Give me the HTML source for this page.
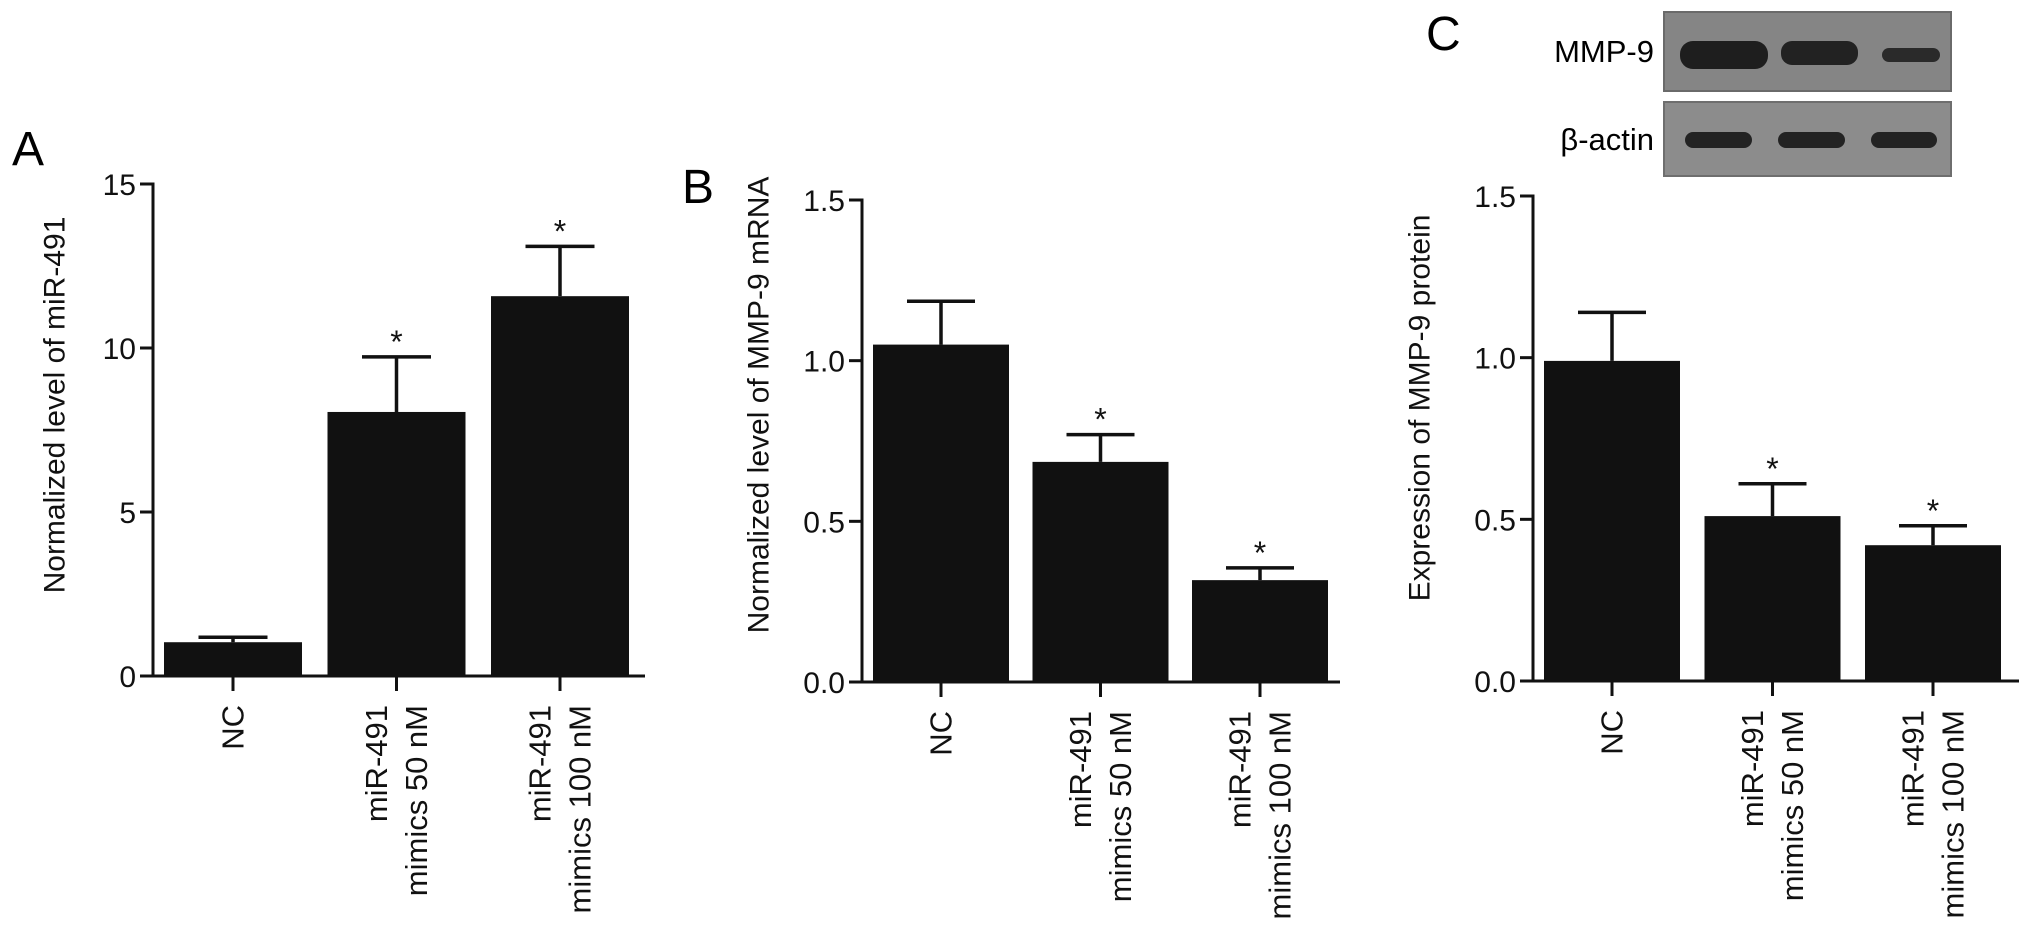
<!DOCTYPE html>
<html><head><meta charset="utf-8"><style>
html,body{margin:0;padding:0;background:#fff;}
svg{display:block;font-family:"Liberation Sans",Arial,sans-serif;}
</style></head><body>
<svg id="fig" width="2032" height="942" viewBox="0 0 2032 942" xmlns="http://www.w3.org/2000/svg">
<text x="12" y="165" font-size="48">A</text>
<text x="682" y="203" font-size="48">B</text>
<text x="1426" y="50" font-size="48">C</text>
<g>
  <text x="1654" y="62" font-size="31" text-anchor="end">MMP-9</text>
  <text x="1654" y="150" font-size="31" text-anchor="end">β-actin</text>
  <rect x="1664" y="12" width="287" height="79" fill="#858585" stroke="#6a6a6a" stroke-width="2"/>
  <rect x="1664" y="102" width="287" height="74" fill="#8c8c8c" stroke="#6e6e6e" stroke-width="2"/>
  <rect x="1680" y="41" width="88" height="28" rx="13" fill="#1e1e1e"/>
  <rect x="1781" y="41" width="77" height="24" rx="11" fill="#222"/>
  <rect x="1882" y="48" width="58" height="14" rx="7" fill="#2a2a2a"/>
  <rect x="1685" y="132" width="67" height="16" rx="8" fill="#232323"/>
  <rect x="1778" y="132" width="67" height="16" rx="8" fill="#232323"/>
  <rect x="1871" y="132" width="66" height="16" rx="8" fill="#232323"/>
</g>
</svg>
<script>
const categories = ["NC", "miR-491 mimics 50 nM", "miR-491 mimics 100 nM"];
const valuesA = [1.03, 8.05, 11.58];
const errorsA = [1.18, 9.73, 13.1];
const valuesB = [1.05, 0.685, 0.317];
const errorsB = [1.185, 0.77, 0.355];
const valuesC = [0.99, 0.51, 0.42];
const errorsC = [1.14, 0.61, 0.48];
const significant = [false, true, true];
const ticksA = [0, 5, 10, 15];
const tickLabelsA = ["0", "5", "10", "15"];
const ticksB = [0, 0.5, 1.0, 1.5];
const tickLabelsB = ["0.0", "0.5", "1.0", "1.5"];
const ticksC = [0, 0.5, 1.0, 1.5];
const tickLabelsC = ["0.0", "0.5", "1.0", "1.5"];

const NS = "http://www.w3.org/2000/svg";
const svg = document.getElementById("fig");
function mk(tag, attrs, parent) {
  const e = document.createElementNS(NS, tag);
  for (const k in attrs) e.setAttribute(k, attrs[k]);
  (parent || svg).appendChild(e);
  return e;
}

function panel(id, cfg, vals, errs, ticks, tickLabels, ylabel) {
  const g = mk("g", {});
  
  
  const yScale = v => cfg.y0 - (v - cfg.ymin) / (cfg.ymax - cfg.ymin) * (cfg.y0 - cfg.yTop);
  const xScale = i => cfg.x0 + i * cfg.step;
  // y axis
  const ya = mk("line", {x1: cfg.ax, x2: cfg.ax, y1: yScale(cfg.ymax) - 1.5, y2: cfg.y0, stroke: "#111", "stroke-width": 3}, g);
  
  
  ticks.forEach((t, i) => {
    const y = yScale(t);
    const tl = mk("line", {x1: cfg.ax - 13, x2: cfg.ax, y1: y, y2: y, stroke: "#111", "stroke-width": 3}, g);
    
    
    const tx = mk("text", {x: cfg.ax - 17, y: y + 11, "font-size": 30, "text-anchor": "end", fill: "#111"}, g);
    tx.textContent = tickLabels[i];
    
    
  });
  // y label
  const yl = mk("text", {x: 0, y: 0, "font-size": 30, "text-anchor": "middle", "dominant-baseline": "central", fill: "#111",
    transform: `translate(${cfg.ylx},${cfg.yly}) rotate(-90)`}, g);
  yl.textContent = ylabel;
  
  
  // bars
  vals.forEach((v, i) => {
    const cx = xScale(i);
    const top = yScale(v);
    const b = mk("rect", {x: cx - cfg.bw / 2, y: top, width: cfg.bw, height: cfg.y0 - top, fill: "#111"}, g);
    
    
    const ey = yScale(errs[i]);
    const el = mk("path", {d: `M${cx},${top} V${ey} M${cx - cfg.bw / 4},${ey} H${cx + cfg.bw / 4}`, stroke: "#111", "stroke-width": 3.5, fill: "none"}, g);
    
    
    if (significant[i]) {
      const s = mk("text", {x: cx, y: ey - 4, "font-size": 32, "text-anchor": "middle", fill: "#111"}, g);
      s.textContent = "*";
      
      
    }
    const xt = mk("line", {x1: cx, x2: cx, y1: cfg.y0, y2: cfg.y0 + 15, stroke: "#111", "stroke-width": 3}, g);
    
    
    const words = categories[i].split(" ");
    const lines = words.length > 1 ? [words[0], words.slice(1).join(" ")] : [categories[i]];
    lines.forEach((ln, j) => {
      const lx = cx + (lines.length > 1 ? (j === 0 ? -20 : 20) : 0);
      const t = mk("text", {x: 0, y: 0, "font-size": 31, "text-anchor": "end", "dominant-baseline": "central", fill: "#111",
        transform: `translate(${lx},${cfg.y0 + 29}) rotate(-90)`}, g);
      t.textContent = ln;
      
      
    });
  });
  const xa = mk("line", {x1: cfg.ax - 13, x2: cfg.xEnd, y1: cfg.y0, y2: cfg.y0, stroke: "#111", "stroke-width": 3}, g);
  
  
}

panel("a", {ax: 153, y0: 676, yTop: 184, ymin: 0, ymax: 15, x0: 233, step: 163.5, bw: 138, xEnd: 645, ylx: 55, yly: 405},
  valuesA, errorsA, ticksA, tickLabelsA, "Normalized level of miR-491");
panel("b", {ax: 862, y0: 682, yTop: 200, ymin: 0, ymax: 1.5, x0: 941, step: 159.5, bw: 136, xEnd: 1340, ylx: 759, yly: 405},
  valuesB, errorsB, ticksB, tickLabelsB, "Normalized level of MMP-9 mRNA");
panel("c", {ax: 1533, y0: 681, yTop: 196, ymin: 0, ymax: 1.5, x0: 1612, step: 160.5, bw: 136, xEnd: 2019, ylx: 1420, yly: 408},
  valuesC, errorsC, ticksC, tickLabelsC, "Expression of MMP-9 protein");
</script>
</body></html>
